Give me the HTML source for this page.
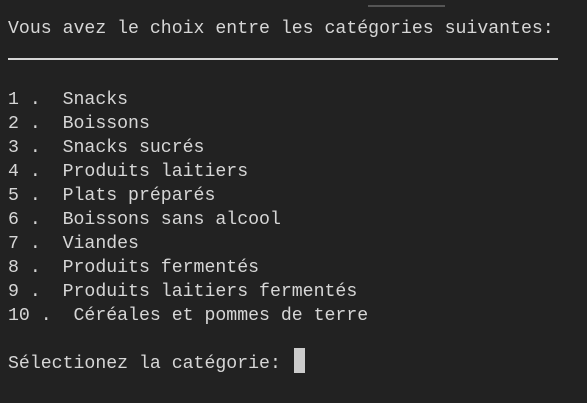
<!DOCTYPE html>
<html><head><meta charset="utf-8"><style>
html,body{margin:0;padding:0;}
body{width:587px;height:403px;background:#222222;position:relative;overflow:hidden;font-family:"Liberation Mono","DejaVu Sans Mono",monospace;font-size:18.2px;color:#d6d6d6;}
.l{position:absolute;left:8px;height:24px;line-height:24px;white-space:pre;}
</style></head><body>
<div style="position:absolute;left:368px;top:5px;width:77px;height:2px;background:#555"></div>
<div class="l" style="top:17px">Vous avez le choix entre les catégories suivantes:</div>
<div style="position:absolute;left:8px;top:58px;width:550px;height:2px;background:#d6d6d6"></div>
<div class="l" style="top:88px">1 .  Snacks</div>
<div class="l" style="top:112px">2 .  Boissons</div>
<div class="l" style="top:136px">3 .  Snacks sucrés</div>
<div class="l" style="top:160px">4 .  Produits laitiers</div>
<div class="l" style="top:184px">5 .  Plats préparés</div>
<div class="l" style="top:208px">6 .  Boissons sans alcool</div>
<div class="l" style="top:232px">7 .  Viandes</div>
<div class="l" style="top:256px">8 .  Produits fermentés</div>
<div class="l" style="top:280px">9 .  Produits laitiers fermentés</div>
<div class="l" style="top:304px">10 .  Céréales et pommes de terre</div>
<div class="l" style="top:352px">Sélectionez la catégorie: </div>
<div style="position:absolute;left:294px;top:348px;width:11px;height:25px;background:#cccccc"></div>
</body></html>
